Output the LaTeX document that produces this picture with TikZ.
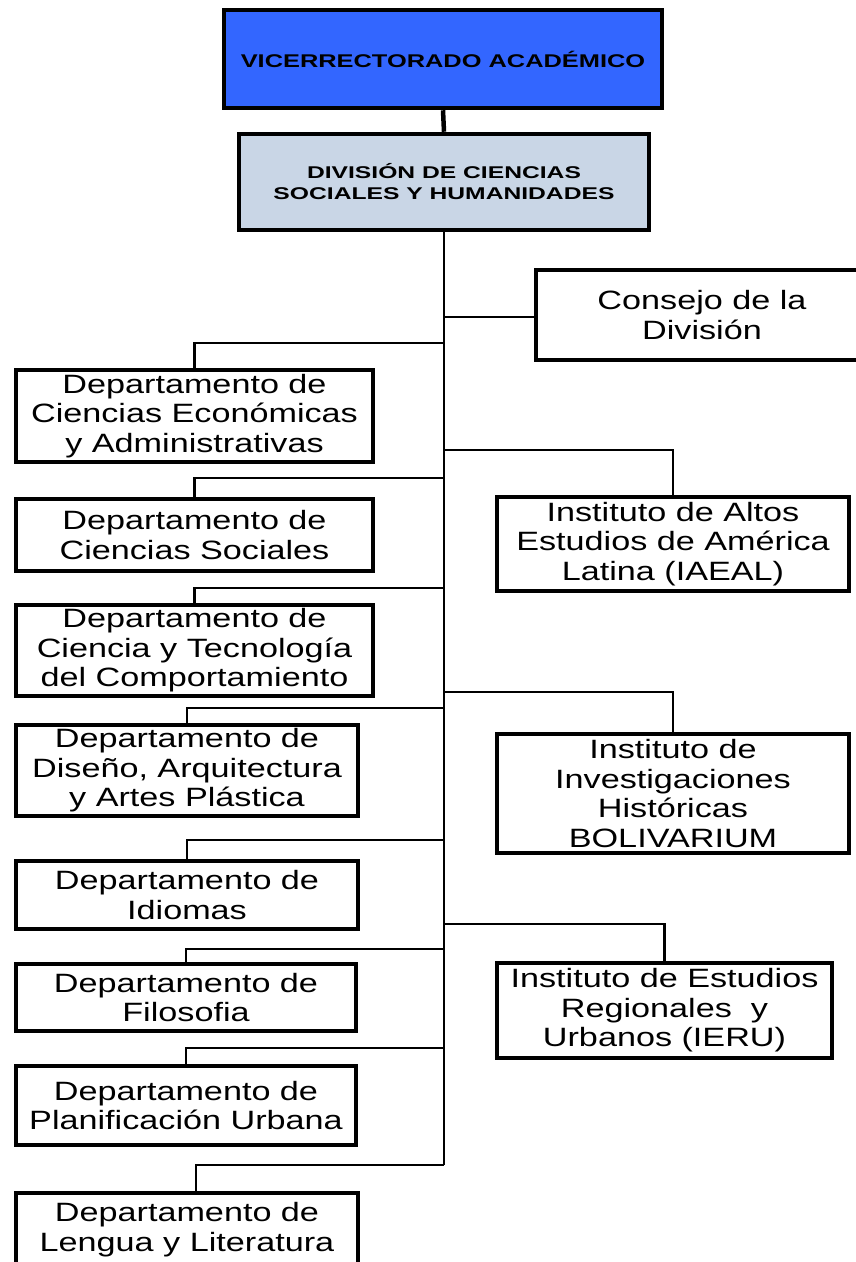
\documentclass[tikz,border=0pt]{standalone}
\usepackage{fontspec}
\setmainfont{Liberation Sans}[FakeStretch=1.29]
\newfontfamily\topfont{Liberation Sans}[FakeStretch=1.38]
\newfontfamily\divfont{Liberation Sans}[FakeStretch=1.45]
\definecolor{topblue}{RGB}{51,102,255}
\definecolor{divgray}{RGB}{201,214,230}
\begin{document}
\begin{tikzpicture}[x=1pt,y=-1pt,
  box/.style={draw=black, line width=4.5pt, fill=white, inner sep=0pt, align=center,
              font=\fontsize{26.5}{29.5}\selectfont},
  link/.style={draw=black, line width=2.4pt},
  trunk/.style={draw=black, line width=2.9pt}]
\useasboundingbox[fill=white] (0,0) rectangle (855,1262);

% head boxes
\node[box, fill=topblue, minimum width=438pt, minimum height=98pt,
      font=\topfont\bfseries\fontsize{18.4}{22}\selectfont] (vr) at (443,59) {VICERRECTORADO ACADÉMICO};
\node[box, fill=divgray, minimum width=410pt, minimum height=96pt,
      font=\divfont\bfseries\fontsize{17}{21}\selectfont] (div) at (444,182) {DIVISIÓN DE CIENCIAS\\SOCIALES Y HUMANIDADES};

% right column
\node[box, minimum width=332pt, minimum height=90pt] (cons) at (702,315) {Consejo de la\\División};
\node[box, minimum width=352pt, minimum height=94pt] (iaeal) at (673,544) {Instituto de Altos\\Estudios de América\\Latina (IAEAL)};
\node[box, minimum width=352pt, minimum height=119pt] (boliv) at (673,793.5) {Instituto de\\Investigaciones\\Históricas\\BOLIVARIUM};
\node[box, minimum width=335pt, minimum height=95pt] (ieru) at (664.5,1010.5) {Instituto de Estudios\\Regionales\ \ y\\Urbanos (IERU)};

% left column
\node[box, minimum width=357pt, minimum height=92pt] (d1) at (194.5,416) {Departamento de\\Ciencias Económicas\\y Administrativas};
\node[box, minimum width=357pt, minimum height=72pt] (d2) at (194.5,535) {Departamento de\\Ciencias Sociales};
\node[box, minimum width=357pt, minimum height=91pt] (d3) at (194.5,650.5) {Departamento de\\Ciencia y Tecnología\\del Comportamiento};
\node[box, minimum width=342pt, minimum height=91pt] (d4) at (187,770.5) {Departamento de\\Diseño, Arquitectura\\y Artes Plástica};
\node[box, minimum width=342pt, minimum height=68pt] (d5) at (187,895) {Departamento de\\Idiomas};
\node[box, minimum width=340pt, minimum height=67pt] (d6) at (186,997.5) {Departamento de\\Filosofia};
\node[box, minimum width=340pt, minimum height=79pt] (d7) at (186,1105.5) {Departamento de\\Planificación Urbana};
\node[box, minimum width=342pt, minimum height=73pt] (d8) at (187,1229.5) {Departamento de\\Lengua y Literatura};

% trunk
\coordinate (tEnd) at (444,1165);
\draw[line width=4.5pt] (vr.south) -- (div.north);
\draw[trunk] (div.south) -- (tEnd);

% branch points on trunk
\coordinate (bc) at (444,317);
\coordinate (b1) at (444,343);
\coordinate (bi1) at (444,450);
\coordinate (b2) at (444,478);
\coordinate (b3) at (444,588);
\coordinate (bi2) at (444,692);
\coordinate (b4) at (444,708);
\coordinate (b5) at (444,840);
\coordinate (bi3) at (444,924);
\coordinate (b6) at (444,949);
\coordinate (b7) at (444,1048);

\draw[link] (bc) -- (bc -| cons.west);
\draw[link] (bi1) -| (iaeal.north);
\draw[link] (bi2) -| (boliv.north);
\draw[link] (bi3) -| (ieru.north);

\draw[link] (b1) -| (d1.north);
\draw[link] (b2) -| (d2.north);
\draw[link] (b3) -| (d3.north);
\draw[link] (b4) -| (d4.north);
\draw[link] (b5) -| (d5.north);
\draw[link] (b6) -| (d6.north);
\draw[link] (b7) -| (d7.north);
\draw[link] (tEnd) -| ([xshift=9pt]d8.north);
\end{tikzpicture}
\end{document}
